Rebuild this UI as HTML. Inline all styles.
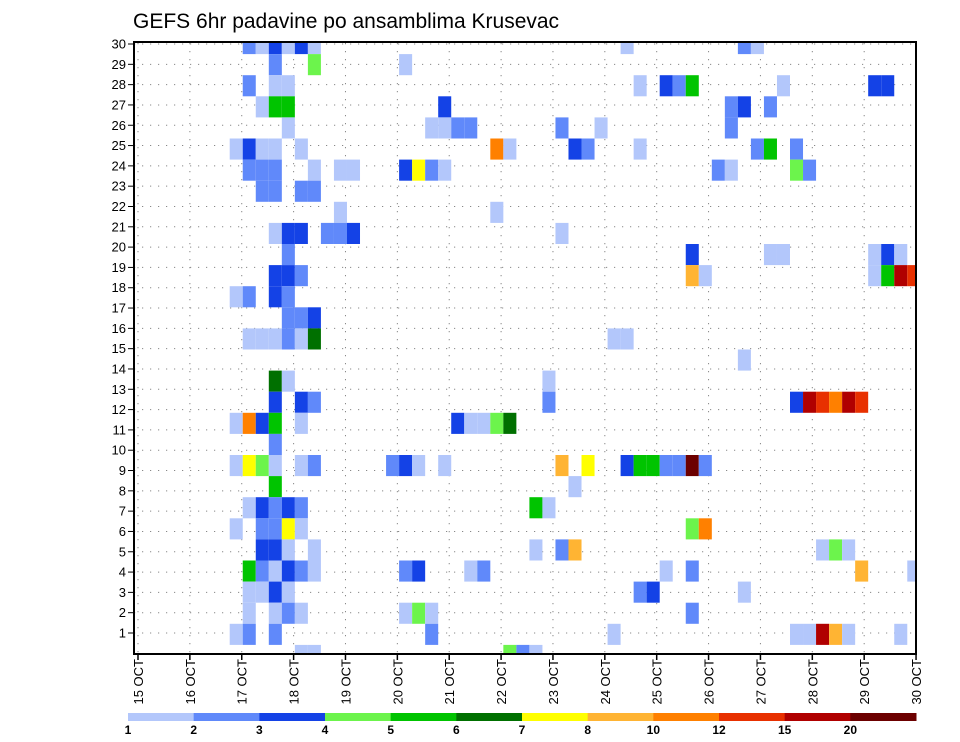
<!DOCTYPE html>
<html><head><meta charset="utf-8"><style>
html,body{margin:0;padding:0;background:#fff;}
svg{display:block;font-family:"Liberation Sans",sans-serif;}
</style></head><body>
<svg id="chart" width="960" height="742" viewBox="0 0 960 742" xmlns="http://www.w3.org/2000/svg">
<text x="133" y="28" font-size="21" fill="#000">GEFS 6hr padavine po ansamblima Krusevac</text>
<defs><clipPath id="plotclip"><rect x="134" y="43" width="782" height="611"/></clipPath></defs>
<g id="grid"></g>
<g id="cells" clip-path="url(#plotclip)"></g>
<rect x="134" y="42" width="782" height="612" fill="none" stroke="#000" stroke-width="2"/>
<g id="yaxis"></g>
<g id="xaxis"></g>
<g id="legend"></g>
</svg>
<script>
const dayLabels = ["15 OCT","16 OCT","17 OCT","18 OCT","19 OCT","20 OCT","21 OCT","22 OCT","23 OCT","24 OCT","25 OCT","26 OCT","27 OCT","28 OCT","29 OCT","30 OCT"];
const memberLabels = [1,2,3,4,5,6,7,8,9,10,11,12,13,14,15,16,17,18,19,20,21,22,23,24,25,26,27,28,29,30];
const levelLabels = ["1","2","3","4","5","6","7","8","10","12","15","20"];
const levelColors = ["#b3c7fb","#6089fa","#1442e6","#6cf44c","#00c400","#007000","#ffff00","#ffb433","#ff8000","#e83000","#b00000","#6c0000"];

const cellMember = [
30,30,30,30,30,30,30,30,30,
29,29,29,
28,28,28,28,28,28,28,28,28,28,
27,27,27,27,27,27,27,
26,26,26,26,26,26,26,26,
25,25,25,25,25,25,25,25,25,25,25,25,25,
24,24,24,24,24,24,24,24,24,24,24,24,24,24,
23,23,23,23,
22,22,
21,21,21,21,21,21,21,
20,20,20,20,20,20,20,
19,19,19,19,19,19,19,19,19,
18,18,18,18,
17,17,17,
16,16,16,16,16,16,16,16,
15,
14,14,14,
13,13,13,13,13,13,13,13,13,13,
12,12,12,12,12,12,12,12,12,12,
11,
10,10,10,10,10,10,10,10,10,10,10,10,10,10,10,10,10,10,10,
9,9,
8,8,8,8,8,8,8,
7,7,7,7,7,7,7,
6,6,6,6,6,6,6,6,6,6,
5,5,5,5,5,5,5,5,5,5,5,5,5,5,
4,4,4,4,4,4,4,
3,3,3,3,3,3,3,3,
2,2,2,2,2,2,2,2,2,2,2,
1,1,1,1,1];
const cellStep = [
8,9,10,11,12,13,37,46,47,
10,13,20,
8,10,11,38,40,41,42,49,56,57,
9,10,11,23,45,46,48,
11,22,23,24,25,32,35,45,
7,8,9,10,12,27,28,33,34,38,47,48,50,
8,9,10,13,15,16,20,21,22,23,44,45,50,51,
9,10,12,13,
15,27,
10,11,12,14,15,16,32,
11,42,48,49,56,57,58,
10,11,12,42,43,56,57,58,59,
7,8,10,11,
11,12,13,
8,9,10,11,12,13,36,37,
46,
10,11,31,
10,12,13,31,50,51,52,53,54,55,
7,8,9,10,12,24,25,26,27,28,
10,
7,8,9,10,12,13,19,20,21,23,32,34,37,38,39,40,41,42,43,
10,33,
8,9,10,11,12,30,31,
7,9,10,11,12,42,43,
9,10,11,13,30,32,33,52,53,54,
8,9,10,11,12,13,20,21,25,26,40,42,55,59,
8,9,10,11,38,39,46,
8,10,11,12,20,21,22,42,
7,8,10,22,36,50,51,52,53,54,58,
12,13,28,29,30];
const cellLevel = [
1,0,2,0,2,0,0,1,0,
1,3,0,
1,0,0,0,2,1,4,0,2,2,
0,4,4,2,1,2,1,
0,0,0,1,1,1,0,1,
0,2,0,0,0,8,0,2,1,0,1,4,1,
1,1,1,0,0,0,2,6,1,0,1,0,3,1,
1,1,1,1,
0,0,
0,2,2,1,1,2,0,
1,2,0,0,0,2,0,
2,2,1,7,0,0,4,10,9,
0,1,2,1,
1,1,2,
0,0,0,1,0,5,0,0,
0,
5,0,0,
2,2,1,1,2,10,9,8,10,9,
0,8,2,4,0,2,0,0,3,5,
1,
0,6,3,0,0,1,1,2,0,0,7,6,2,4,4,1,1,11,1,
4,0,
0,2,1,2,1,4,0,
0,1,1,6,0,3,8,
2,2,0,0,0,1,7,0,3,0,
4,1,0,2,1,0,1,2,0,1,0,1,7,0,
0,0,2,0,1,2,0,
0,0,1,0,0,3,0,1,
0,1,1,1,0,0,0,10,7,0,0,
0,0,3,1,0];

const NS="http://www.w3.org/2000/svg";
function xStep(k){return 138.5 + k*13.03;}
const stepW = 13.03;
function yMember(m){return 33 + (30-m)*21.1;}
const memberH = 21.1;
function xDay(d){return 138 + d*51.87;}
function yLabel(m){return 633 - (m-1)*20.31;}
function mk(tag, attrs, parent){const e=document.createElementNS(NS,tag);for(const a in attrs)e.setAttribute(a,attrs[a]);parent.appendChild(e);return e;}

const grid=document.getElementById('grid');
dayLabels.forEach((d,i)=>{
  const x=xDay(i);
  const l=mk('line',{x1:x,y1:43,x2:x,y2:654,stroke:'#888','stroke-width':1,'stroke-dasharray':'1.2 6.8'},grid);
  
  
});
memberLabels.forEach(m=>{
  const y=yLabel(m);
  const l=mk('line',{x1:134,y1:y,x2:916,y2:y,stroke:'#888','stroke-width':1,'stroke-dasharray':'1.2 6.8'},grid);
  
  
});

const cg=document.getElementById('cells');
for(let i=0;i<cellMember.length;i++){
  const r=mk('rect',{x:xStep(cellStep[i]),y:yMember(cellMember[i]),width:stepW,height:memberH,fill:levelColors[cellLevel[i]]},cg);
  
  
}

const ya=document.getElementById('yaxis');
memberLabels.forEach(m=>{
  const y=yLabel(m);
  const t=mk('line',{x1:128,y1:y,x2:134,y2:y,stroke:'#000','stroke-width':1},ya);
  
  
  const tx=mk('text',{x:126,y:y+4.5,'text-anchor':'end','font-size':13,fill:'#000'},ya);
  tx.textContent=m;
  
  
});

const xa=document.getElementById('xaxis');
dayLabels.forEach((d,i)=>{
  const x=xDay(i);
  const t=mk('line',{x1:x,y1:654,x2:x,y2:660,stroke:'#000','stroke-width':1.5},xa);
  
  
  const tx=mk('text',{x:0,y:0,'text-anchor':'end','font-size':13,fill:'#000',transform:'translate('+(x+5)+',659) rotate(-90)'},xa);
  tx.textContent=d;
  
  
});

const lg=document.getElementById('legend');
const lx0=128, lx1=916, segW=(lx1-lx0)/levelColors.length;
levelColors.forEach((c,i)=>{
  const r=mk('rect',{x:lx0+i*segW,y:713,width:segW+0.5,height:8,fill:c},lg);
  
  
});
levelLabels.forEach((s,i)=>{
  const tx=mk('text',{x:lx0+i*segW,y:734,'text-anchor':'middle','font-size':12,'font-weight':'bold',fill:'#000'},lg);
  tx.textContent=s;
  
  
});
</script>
</body></html>
